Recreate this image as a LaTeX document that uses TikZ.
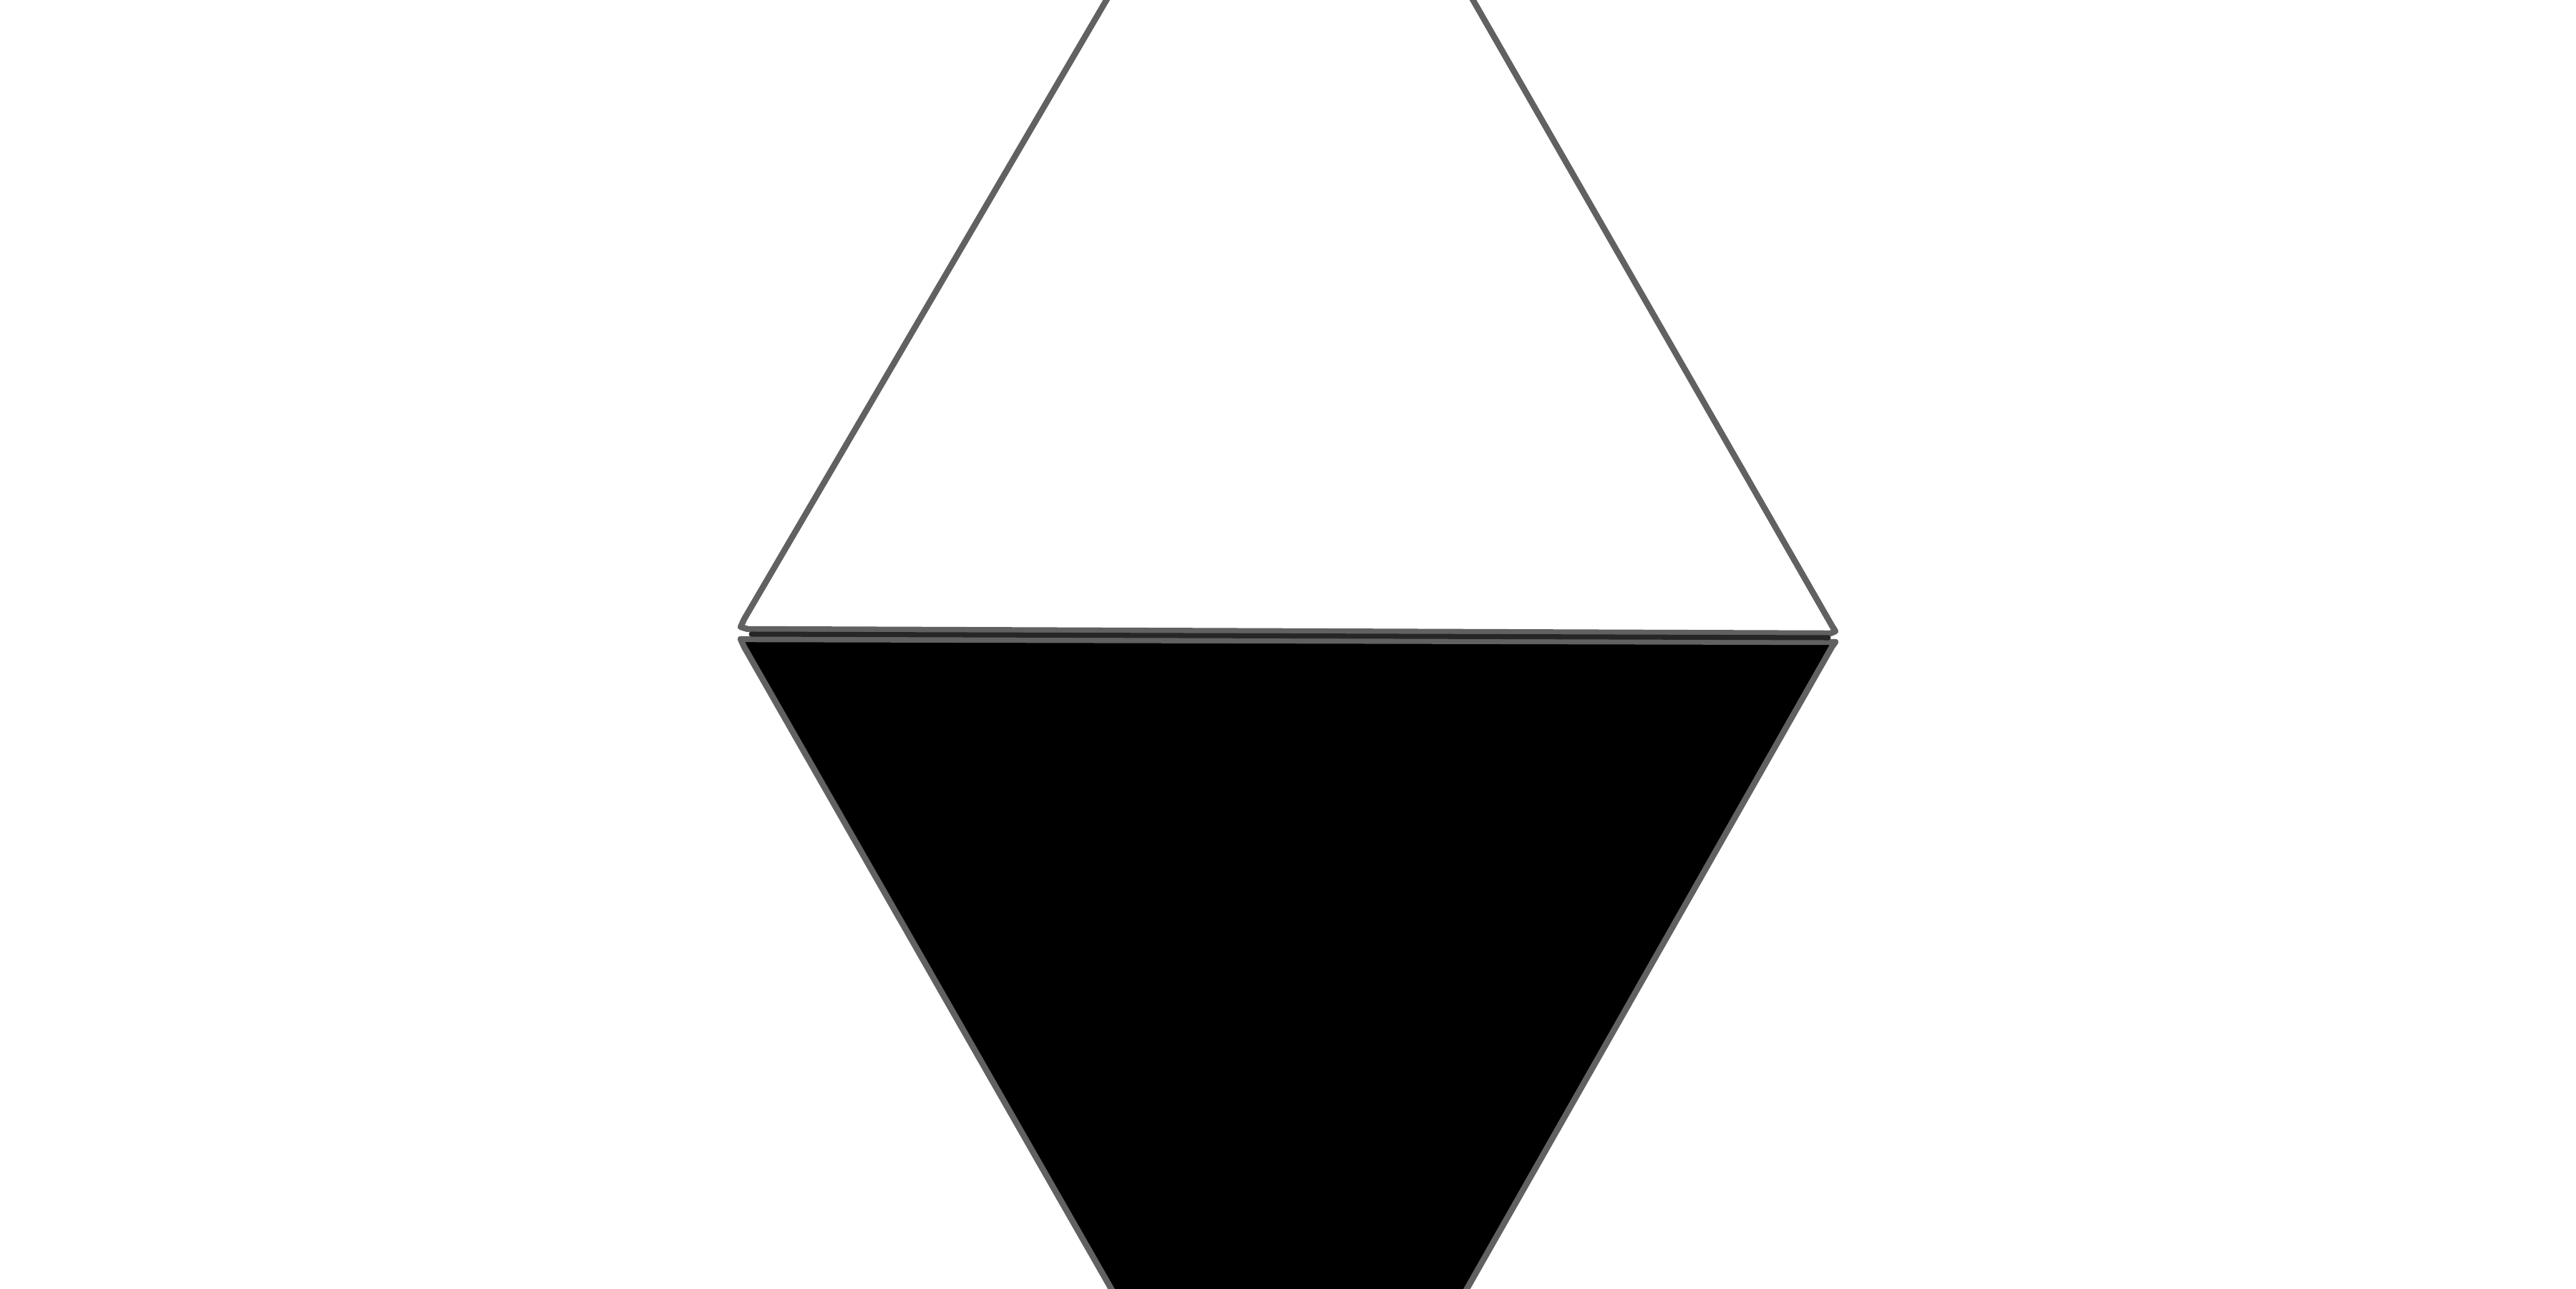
\documentclass[tikz,border=0pt]{standalone}
\usepackage{tikz}
\usetikzlibrary{calc}

\begin{document}
\begin{tikzpicture}[
  rim/.style={draw=black!62, line width=2.4pt, line join=round, line cap=round},
  upperpart/.style={rim, fill=white},
  lowerpart/.style={rim, fill=black},
  seam/.style={draw=black!85, line width=2pt, line cap=round}
]
\useasboundingbox (0,0) rectangle (36,18);
\clip (0,0) rectangle (36,18);

% upper (empty) half
\coordinate (ul) at (10.35,9.24);
\coordinate (ur) at (25.65,9.18);
\draw[upperpart] (15.58,18.2) -- (10.40,9.35) -- (ul) -- (10.45,9.21) -- (25.58,9.15) -- (ur) -- (25.60,9.26) -- (20.47,18.2);

% lower (filled) half
\coordinate (ll) at (10.35,9.07);
\coordinate (lr) at (25.65,9.03);
\draw[lowerpart] (ll) -- (10.45,9.07) -- (25.58,9.03) -- (lr) -- (25.60,8.96) -- (20.39,-0.2) -- (15.64,-0.2) -- (10.40,8.96) -- cycle;

% dark seam between the halves
\draw[seam] (10.50,9.14) -- (25.55,9.09);

\end{tikzpicture}
\end{document}
